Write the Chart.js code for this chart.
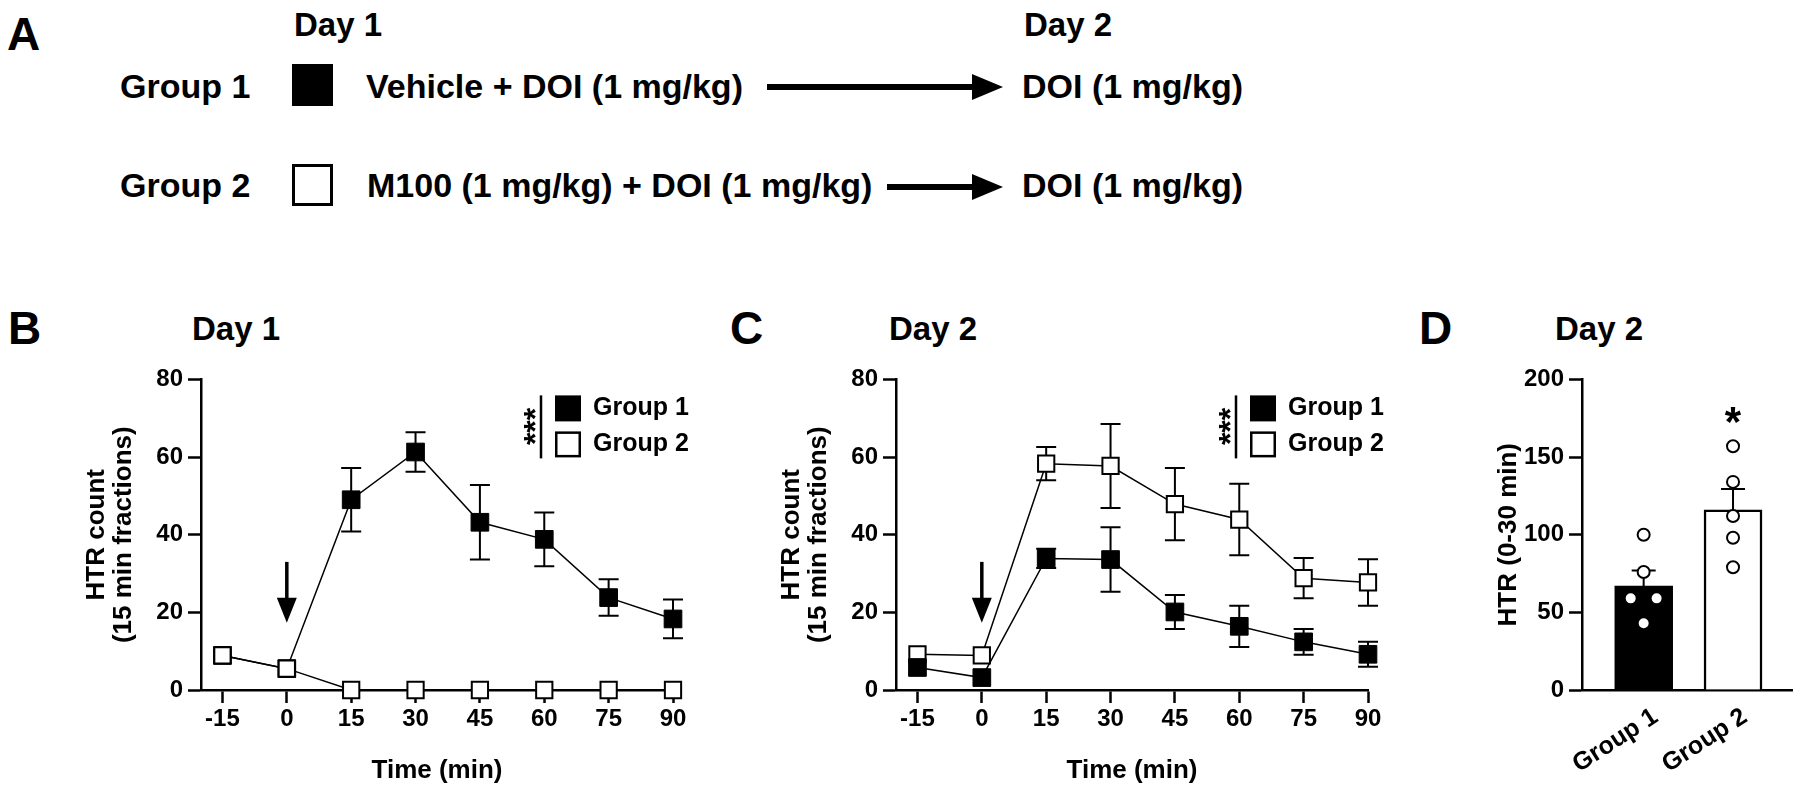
<!DOCTYPE html>
<html>
<head>
<meta charset="utf-8">
<script src="https://cdn.jsdelivr.net/npm/chart.js@4.4.1/dist/chart.umd.min.js"></script>
<style>
  html, body { margin: 0; padding: 0; background: #fff; }
  body { width: 1800px; height: 791px; position: relative; overflow: hidden;
         font-family: 'Liberation Sans', Arial, sans-serif; font-weight: bold; color: #000; }
  .t { position: absolute; line-height: 1; white-space: nowrap; }
  .schem { font-size: 34px; }
  .panel { font-size: 46px; }
  .day { font-size: 33px; }
  .title { font-size: 33px; }
  canvas { position: absolute; }
  .sq { position: absolute; width: 41px; height: 42px; box-sizing: border-box; border: 3px solid #000; }
  .shaft { position: absolute; height: 6px; background: #000; }
  .head { position: absolute; width: 0; height: 0; border-top: 13px solid transparent;
          border-bottom: 13px solid transparent; border-left: 31px solid #000; }
</style>
</head>
<body>
<!-- panel A: the design -->
<div class="t panel" style="left:7px; top:11px">A</div>
<div class="t day" style="left:294px; top:8px">Day 1</div>
<div class="t day" style="left:1024px; top:8px">Day 2</div>

<div class="t schem" style="left:120px; top:69px">Group 1</div>
<div class="sq" style="left:292px; top:64px; background:#000"></div>
<div class="t schem" style="left:366px; top:69px">Vehicle + DOI (1 mg/kg)</div>
<div class="shaft" style="left:767px; top:84px; width:208px"></div>
<div class="head" style="left:972px; top:74px"></div>
<div class="t schem" style="left:1022px; top:69px">DOI (1 mg/kg)</div>

<div class="t schem" style="left:120px; top:168px">Group 2</div>
<div class="sq" style="left:292px; top:164px; background:#fff"></div>
<div class="t schem" style="left:367px; top:168px">M100 (1 mg/kg) + DOI (1 mg/kg)</div>
<div class="shaft" style="left:887px; top:184px; width:88px"></div>
<div class="head" style="left:972px; top:174px"></div>
<div class="t schem" style="left:1022px; top:168px">DOI (1 mg/kg)</div>

<!-- panel headers -->
<div class="t panel" style="left:8px; top:305px">B</div>
<div class="t title" style="left:192px; top:312px">Day 1</div>
<div class="t panel" style="left:730px; top:305px">C</div>
<div class="t title" style="left:889px; top:312px">Day 2</div>
<div class="t panel" style="left:1419px; top:305px">D</div>
<div class="t title" style="left:1555px; top:312px">Day 2</div>

<canvas id="chartB" width="640" height="431" style="left:60px; top:360px; width:640px; height:431px"></canvas>
<canvas id="chartC" width="640" height="431" style="left:755px; top:360px; width:640px; height:431px"></canvas>
<canvas id="chartD" width="400" height="431" style="left:1400px; top:360px; width:400px; height:431px"></canvas>

<script>
// time course data (HTR count per 15 min fraction, mean and SEM)
const times = [-15, 0, 15, 30, 45, 60, 75, 90];
const day1Group1 = [8.9, 5.5, 49, 61.3, 43.2, 38.8, 23.8, 18.3];
const day1Group1Sem = [0, 0, 8.2, 5.1, 9.6, 6.9, 4.7, 5.0];
const day1Group2 = [8.9, 5.5, 0, 0, 0, 0, 0, 0];
const day1Group2Sem = [0, 0, 0, 0, 0, 0, 0, 0];
const day2Group1 = [5.8, 3.2, 33.9, 33.6, 20.1, 16.4, 12.4, 9.2];
const day2Group1Sem = [0, 0, 2.5, 8.3, 4.4, 5.3, 3.3, 3.2];
const day2Group2 = [9.2, 8.9, 58.3, 57.7, 47.9, 43.9, 28.8, 27.7];
const day2Group2Sem = [0, 0, 4.3, 10.8, 9.3, 9.2, 5.2, 6.0];

// day 2 totals (0-30 min)
const groupNames = ['Group 1', 'Group 2'];
const htrMean = [67, 116];
const htrSem = [10, 13.5];
const htrDotsGroup1 = [100, 76, 59, 59, 43];
const htrDotsGroup2 = [157, 134, 112, 98, 79];

// annotations
const doseArrow = { time: 0, from: 33, to: 17.3 };
const legendStars = '***';
const starD = { group: 2, value: 179, text: '*' };

const FONT = "'Liberation Sans', Arial, sans-serif";
Chart.defaults.font.family = FONT;
Chart.defaults.font.weight = 'bold';
Chart.defaults.color = '#000';

const tickFont = { family: FONT, size: 24, weight: 'bold' };
const titleFont = { family: FONT, size: 26, weight: 'bold', lineHeight: 1.05 };

// error bars go under the squares
const errorBars = {
  id: 'errorBars',
  beforeDatasetsDraw(chart) {
    const { ctx } = chart;
    const xs = chart.scales.x, ys = chart.scales.y;
    ctx.save();
    ctx.strokeStyle = '#000';
    ctx.lineWidth = 2;
    chart.data.datasets.forEach(ds => {
      if (!ds.sem) return;
      ds.data.forEach((p, i) => {
        const e = ds.sem[i];
        if (!e) return;
        const x = xs.getPixelForValue(p.x);
        const yHi = ys.getPixelForValue(p.y + e);
        const yLo = ds.upOnly ? ys.getPixelForValue(p.y) : ys.getPixelForValue(p.y - e);
        const cap = ds.capHalf || 10;
        ctx.beginPath();
        ctx.moveTo(x, yHi); ctx.lineTo(x, yLo);
        ctx.moveTo(x - cap, yHi); ctx.lineTo(x + cap, yHi);
        if (!ds.upOnly) { ctx.moveTo(x - cap, yLo); ctx.lineTo(x + cap, yLo); }
        ctx.stroke();
      });
    });
    ctx.restore();
  }
};

// injection arrow + legend with significance stars
const timeCourseExtras = {
  id: 'timeCourseExtras',
  afterDatasetsDraw(chart) {
    const { ctx, chartArea: a } = chart;
    const xs = chart.scales.x, ys = chart.scales.y;
    ctx.save();
    ctx.fillStyle = '#000';
    const ax = xs.getPixelForValue(doseArrow.time);
    const yTop = ys.getPixelForValue(doseArrow.from);
    const yTip = ys.getPixelForValue(doseArrow.to);
    const headLen = 25;
    ctx.fillRect(ax - 1.75, yTop, 3.5, yTip - headLen - yTop + 1);
    ctx.beginPath();
    ctx.moveTo(ax - 10, yTip - headLen);
    ctx.lineTo(ax + 10, yTip - headLen);
    ctx.lineTo(ax, yTip);
    ctx.closePath();
    ctx.fill();

    const lx = a.left + 340, ly = a.top + 16;
    ctx.fillRect(lx - 1.25, ly, 2.5, 63);
    ctx.save();
    ctx.translate(lx + 5, ly + 31);
    ctx.rotate(-Math.PI / 2);
    ctx.font = 'bold 32px ' + FONT;
    ctx.textAlign = 'center';
    ctx.textBaseline = 'alphabetic';
    ctx.fillText(legendStars, 0, 0);
    ctx.restore();

    ctx.fillRect(lx + 14, ly, 26, 26);
    ctx.fillStyle = '#fff';
    ctx.fillRect(lx + 15, ly + 37, 24, 24);
    ctx.strokeStyle = '#000';
    ctx.lineWidth = 2.5;
    ctx.strokeRect(lx + 15.25, ly + 37.25, 23.5, 23.5);
    ctx.fillStyle = '#000';
    ctx.font = 'bold 25px ' + FONT;
    ctx.textAlign = 'left';
    ctx.textBaseline = 'middle';
    ctx.fillText(groupNames[0], lx + 52, ly + 13);
    ctx.fillText(groupNames[1], lx + 52, ly + 49);
    ctx.restore();
  }
};

function axisStyle() {
  return {
    grid: { drawOnChartArea: false, drawTicks: true, tickLength: 13, tickWidth: 2.5, tickColor: '#000' },
    border: { display: true, color: '#000', width: 2.5 }
  };
}

function timeCourse(id, g1, g1Sem, g2, g2Sem, whiteOnTop) {
  const pts = arr => times.map((t, i) => ({ x: t, y: arr[i] }));
  const blackSeries = {
    data: pts(g1), sem: g1Sem,
    borderColor: '#000', borderWidth: 1.5, tension: 0,
    pointStyle: 'rect', pointRadius: 12.5,
    pointBackgroundColor: '#000', pointBorderColor: '#000', pointBorderWidth: 1,
    clip: false, order: whiteOnTop ? 1 : 0
  };
  const whiteSeries = {
    data: pts(g2), sem: g2Sem,
    borderColor: '#000', borderWidth: 1.5, tension: 0,
    pointStyle: 'rect', pointRadius: 11.5,
    pointBackgroundColor: '#fff', pointBorderColor: '#000', pointBorderWidth: 2,
    clip: false, order: whiteOnTop ? 0 : 1
  };
  return new Chart(document.getElementById(id), {
    type: 'line',
    data: { datasets: [blackSeries, whiteSeries] },
    options: {
      responsive: false, animation: false, events: [],
      layout: { padding: { top: 16, right: 27, left: 0, bottom: 0 } },
      plugins: { legend: { display: false }, tooltip: { enabled: false } },
      scales: {
        x: {
          type: 'linear', min: -20, max: 90,
          afterBuildTicks: ax => { ax.ticks = times.map(v => ({ value: v })); },
          afterFit: ax => { ax.height = 101; },
          ticks: { font: tickFont, color: '#000', padding: 2, autoSkip: false, maxRotation: 0 },
          title: { display: true, text: 'Time (min)', font: titleFont, color: '#000', padding: { top: 0, bottom: 7 } },
          ...axisStyle()
        },
        y: {
          min: 0, max: 80,
          afterFit: ax => { ax.width = 141; },
          ticks: { stepSize: 20, font: tickFont, color: '#000', padding: 5 },
          title: { display: true, text: ['HTR count', '(15 min fractions)'], font: titleFont, color: '#000', padding: { top: 23, bottom: 0 } },
          ...axisStyle()
        }
      }
    },
    plugins: [errorBars, timeCourseExtras]
  });
}

timeCourse('chartB', day1Group1, day1Group1Sem, day1Group2, day1Group2Sem, true);
timeCourse('chartC', day2Group1, day2Group1Sem, day2Group2, day2Group2Sem, false);

// spread dots that share nearly the same value side by side
function swarm(values, center) {
  return values.map((v, i) => {
    const twins = values.map((w, j) => j).filter(j => Math.abs(values[j] - v) < 6);
    const k = twins.indexOf(i);
    return { x: center + (k - (twins.length - 1) / 2) * 0.29, y: v };
  });
}

const starPlugin = {
  id: 'starPlugin',
  afterDatasetsDraw(chart) {
    const { ctx } = chart;
    ctx.save();
    ctx.fillStyle = '#000';
    ctx.font = 'bold 42px ' + FONT;
    ctx.textAlign = 'center';
    ctx.textBaseline = 'alphabetic';
    ctx.fillText(starD.text, chart.scales.x.getPixelForValue(starD.group),
      chart.scales.y.getPixelForValue(starD.value) + 24);
    ctx.restore();
  }
};

new Chart(document.getElementById('chartD'), {
  type: 'bar',
  data: {
    datasets: [
      {
        type: 'scatter',
        data: swarm(htrDotsGroup1, 1).concat(swarm(htrDotsGroup2, 2)),
        pointRadius: 6, pointBackgroundColor: '#fff', pointBorderColor: '#000', pointBorderWidth: 2,
        clip: false, order: 0
      },
      {
        type: 'bar',
        data: groupNames.map((g, i) => ({ x: i + 1, y: htrMean[i] })),
        sem: htrSem, upOnly: true, capHalf: 12,
        backgroundColor: ['#000', '#fff'], borderColor: '#000', borderWidth: 2.5,
        barThickness: 58, order: 1
      }
    ]
  },
  options: {
    responsive: false, animation: false, events: [],
    layout: { padding: { top: 16, right: 7, left: 0, bottom: 0 } },
    plugins: { legend: { display: false }, tooltip: { enabled: false } },
    scales: {
      x: {
        type: 'linear', min: 0.31, max: 2.66, offset: false,
        afterBuildTicks: ax => { ax.ticks = groupNames.map((g, i) => ({ value: i + 1 })); },
        afterFit: ax => { ax.height = 101; },
        ticks: { callback: v => groupNames[v - 1], font: { family: FONT, size: 25, weight: 'bold' }, color: '#000',
                 minRotation: 33, maxRotation: 33, autoSkip: false, padding: 4, labelOffset: 12 },
        grid: { offset: false, drawOnChartArea: false, drawTicks: true, tickLength: 8, tickColor: 'rgba(0,0,0,0)' },
        border: { display: true, color: '#000', width: 2.5 }
      },
      y: {
        min: 0, max: 200,
        afterFit: ax => { ax.width = 182; },
        ticks: { stepSize: 50, font: tickFont, color: '#000', padding: 5 },
        title: { display: true, text: 'HTR (0-30 min)', font: { family: FONT, size: 26, weight: 'bold' }, color: '#000', padding: { top: 93, bottom: 0 } },
        ...axisStyle()
      }
    }
  },
  plugins: [errorBars, starPlugin]
});
</script>
</body>
</html>
